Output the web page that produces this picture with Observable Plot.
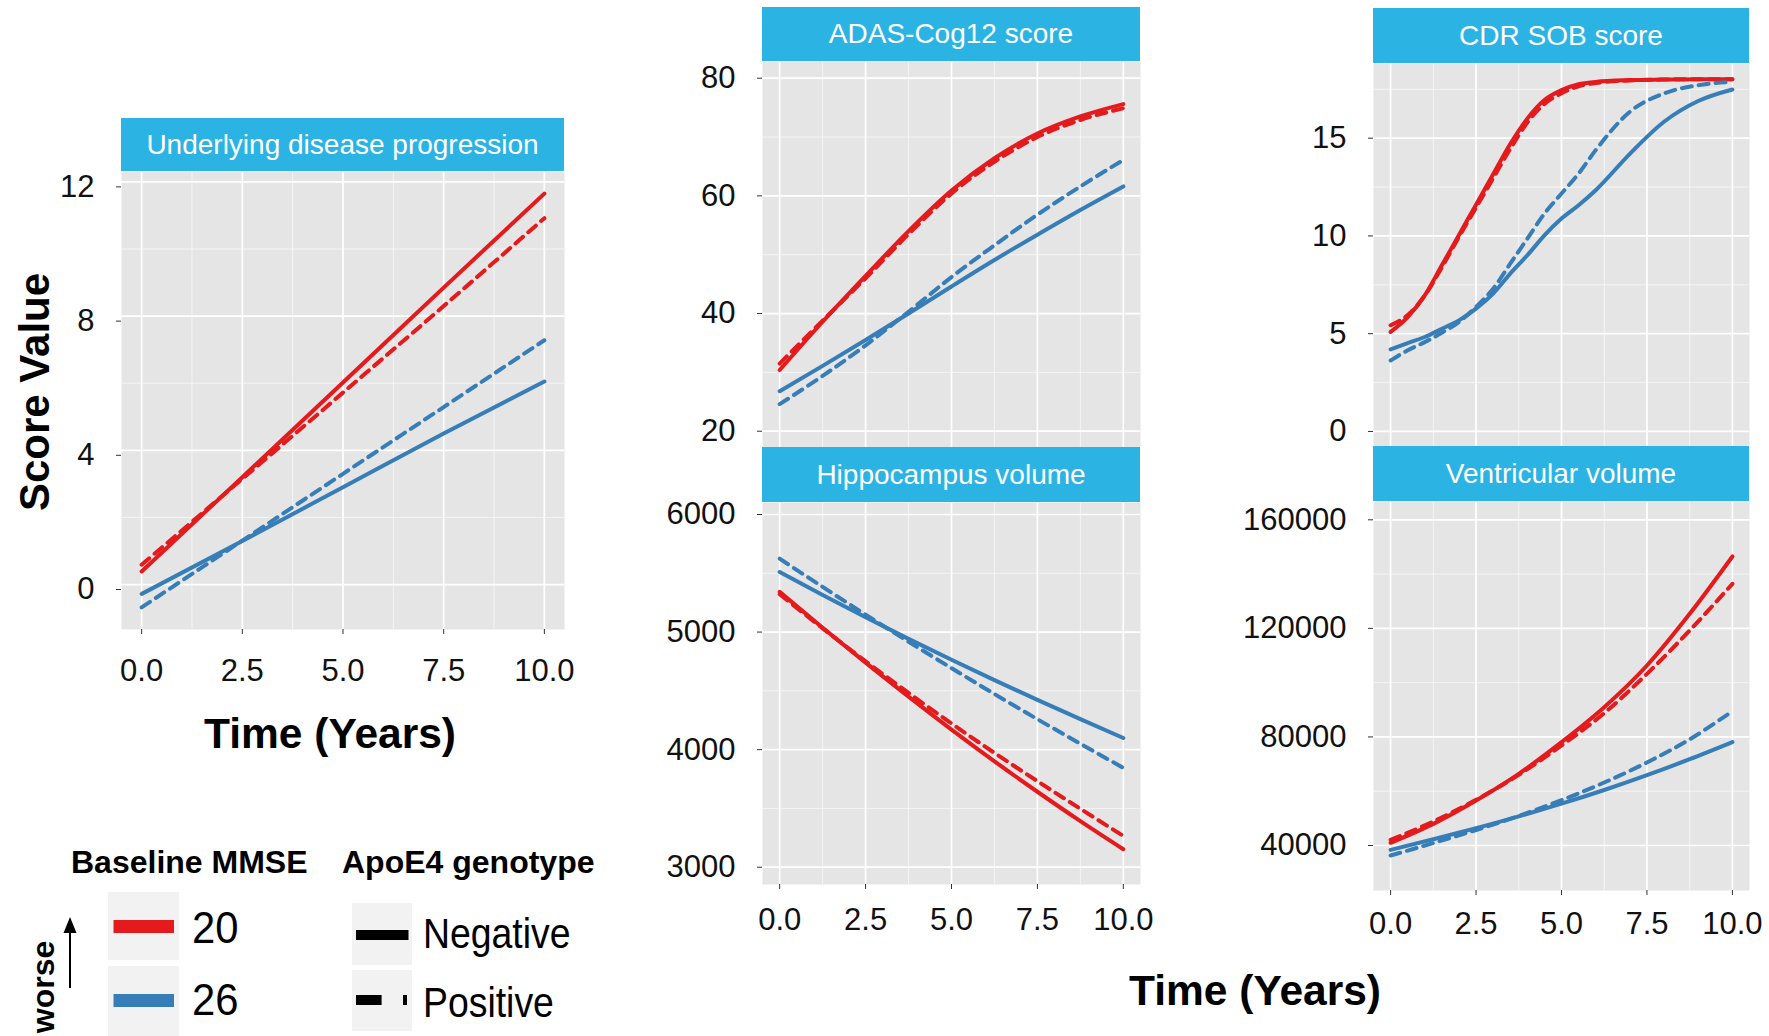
<!DOCTYPE html>
<html><head><meta charset="utf-8">
<script src="https://cdn.jsdelivr.net/npm/d3@7"></script>
<script src="https://cdn.jsdelivr.net/npm/@observablehq/plot@0.6"></script>
<style>
body{margin:0;background:#fff;}
#root{position:relative;width:1769px;height:1036px;overflow:hidden;background:#fff;font-family:"Liberation Sans",Arial,sans-serif;}
.pl{position:absolute;}
.pl svg{max-width:none !important;}
.strip{position:absolute;background:#2BB3E3;color:#fff;font-size:28px;display:flex;align-items:center;justify-content:center;z-index:5;white-space:nowrap;}
#overlay{position:absolute;left:0;top:0;z-index:10;}
</style></head><body><div id="root"></div>
<script>
// ---------- data ----------
const mmseLevels = ["20", "26"];
const apoeLevels = ["Negative", "Positive"];
const xTicks = [0, 2.5, 5, 7.5, 10];
const xMinor = [1.25, 3.75, 6.25, 8.75];

const underlyingTime = [0, 2.5, 5, 7.5, 10];
const underlying20Neg = [0.39, 3.2, 6.02, 8.85, 11.65];
const underlying20Pos = [0.59, 3.15, 5.72, 8.3, 10.92];
const underlying26Neg = [-0.28, 1.3, 2.9, 4.5, 6.05];
const underlying26Pos = [-0.68, 1.31, 3.3, 5.29, 7.28];

const adasTime = [0, 1.25, 2.5, 3.75, 5, 6.25, 7.5, 8.75, 10];
const adas20Neg = [30.4, 38.6, 46.4, 54.0, 60.9, 66.4, 70.6, 73.5, 75.6];
const adas20Pos = [31.5, 38.8, 46.0, 53.5, 60.4, 65.8, 70.0, 72.9, 74.9];
const adas26Neg = [26.8, 31.1, 35.5, 40.0, 44.6, 49.1, 53.4, 57.6, 61.6];
const adas26Pos = [24.6, 29.4, 34.6, 40.3, 46.2, 51.6, 56.8, 61.6, 66.1];

const cdrTime = [0, 0.5, 1, 1.5, 2, 2.5, 3, 3.5, 4, 4.5, 5, 5.5, 6, 7, 8, 9, 10];
const cdr20Neg = [5.09, 5.85, 6.96, 8.5, 10.05, 11.6, 13.15, 14.7, 16.0, 16.95, 17.46, 17.76, 17.88, 17.97, 18.0, 18.02, 18.02];
const cdr20Pos = [5.43, 5.95, 6.95, 8.4, 9.95, 11.45, 12.95, 14.45, 15.8, 16.75, 17.3, 17.65, 17.82, 17.95, 18.0, 18.02, 18.02];
const cdr26Neg = [4.2, 4.52, 4.83, 5.25, 5.68, 6.28, 7.05, 8.07, 9.01, 10.03, 10.89, 11.57, 12.34, 14.2, 15.84, 16.9, 17.49];
const cdr26Pos = [3.63, 4.15, 4.57, 5.05, 5.6, 6.37, 7.3, 8.58, 9.86, 11.14, 12.17, 13.19, 14.39, 16.35, 17.29, 17.71, 17.88];

const hippoTime = [0, 1.25, 2.5, 3.75, 5, 6.25, 7.5, 8.75, 10];
const hippo20Neg = [5342, 5037, 4740, 4451, 4171, 3901, 3642, 3392, 3153];
const hippo20Pos = [5322, 5032, 4752, 4482, 4222, 3972, 3732, 3497, 3266];
const hippo26Neg = [5511, 5316, 5126, 4942, 4764, 4591, 4423, 4259, 4099];
const hippo26Pos = [5624, 5384, 5148, 4918, 4693, 4473, 4259, 4050, 3845];

const ventTime = [0, 1.25, 2.5, 3.75, 5, 6.25, 7.5, 8.75, 10];
const vent20Neg = [41000, 47980, 56580, 66410, 78075, 90970, 106320, 125360, 146490];
const vent20Pos = [42090, 48840, 56830, 66040, 76850, 88760, 103250, 119220, 136410];
const vent26Neg = [38400, 42285, 46380, 50738, 55411, 60451, 65911, 71791, 78091];
const vent26Pos = [36300, 40900, 45700, 50900, 56700, 63200, 70600, 79100, 89500];

// ---------- helpers ----------
const RED = "#E41A1C", BLUE = "#377EB8";
function rows(time, s20n, s20p, s26n, s26p) {
  const out = [];
  [[s20n, "20", "Negative"], [s20p, "20", "Positive"], [s26n, "26", "Negative"], [s26p, "26", "Positive"]]
    .forEach(([vals, m, a]) => time.forEach((t, i) => out.push({t, v: vals[i], mmse: m, apoe: a})));
  return out;
}

const root = document.getElementById("root");
const FONT = "'Liberation Sans', Arial, sans-serif";

function panel(p) {
  const mL = p.mL || 150, mR = 40, mT = 10, mB = p.xAxis ? 80 : 10;
  const W = mL + p.pw + mR, H = mT + p.ph + mB;
  const marks = [
    Plot.frame({fill: "#E5E5E5", stroke: null}),
    Plot.gridY(p.yMinor, {stroke: "#fff", strokeOpacity: 0.75, strokeWidth: 0.8}),
    Plot.gridX(xMinor, {stroke: "#fff", strokeOpacity: 0.75, strokeWidth: 0.8}),
    Plot.gridY(p.yTicks, {stroke: "#fff", strokeOpacity: 1, strokeWidth: 1.7}),
    Plot.gridX(xTicks, {stroke: "#fff", strokeOpacity: 1, strokeWidth: 1.7}),
    Plot.axisY(p.yTicks, {tickSize: 5, tickPadding: 22, fontSize: 31, stroke: "#333", fill: "#111", label: null, dy: p.yDy || 0, tickFormat: d => String(d)}),
    Plot.line(p.data.filter(d => d.apoe === "Negative"), {x: "t", y: "v", z: "mmse", stroke: "mmse", strokeWidth: 4, curve: "monotone-x"}),
    Plot.line(p.data.filter(d => d.apoe === "Positive"), {x: "t", y: "v", z: "mmse", stroke: "mmse", strokeWidth: 4, strokeDasharray: "10,7", curve: "monotone-x"})
  ];
  if (p.xAxis) marks.push(Plot.axisX(xTicks, {tickSize: 5, tickPadding: p.xPad, fontSize: 31, stroke: "#333", fill: "#111", label: null, tickFormat: d3.format(".1f")}));
  const wrap = document.createElement("div");
  wrap.className = "pl";
  wrap.style.left = (p.px - mL) + "px";
  wrap.style.top = (p.py - mT) + "px";
  wrap.style.width = W + "px";
  wrap.style.height = H + "px";
  wrap.appendChild(Plot.plot({
    width: W, height: H,
    marginLeft: mL, marginRight: mR, marginTop: mT, marginBottom: mB,
    inset: 0,
    x: p.xAxis ? {domain: [-0.5, 10.5]} : {domain: [-0.5, 10.5], axis: null},
    y: {domain: p.yDomain},
    color: {domain: mmseLevels, range: [RED, BLUE]},
    style: {fontFamily: FONT, background: "transparent", overflow: "visible", maxWidth: "none"},
    marks
  }));
  root.appendChild(wrap);
  const s = document.createElement("div");
  s.className = "strip";
  s.style.left = p.px + "px"; s.style.top = p.sy + "px";
  s.style.width = p.pw + "px"; s.style.height = p.sh + "px";
  s.textContent = p.title;
  root.appendChild(s);
}

panel({title: "Underlying disease progression", px: 121, py: 171, pw: 443, ph: 458, sy: 118, sh: 53, mL: 110, yDy: 5,
  yDomain: [-1.34, 12.31], yTicks: [0, 4, 8, 12], yMinor: [2, 6, 10], xAxis: true, xPad: 24,
  data: rows(underlyingTime, underlying20Neg, underlying20Pos, underlying26Neg, underlying26Pos)});
panel({title: "ADAS-Cog12 score", px: 762, py: 61, pw: 378, ph: 386, sy: 7, sh: 54,
  yDomain: [17.23, 82.84], yTicks: [20, 40, 60, 80], yMinor: [30, 50, 70], xAxis: false,
  data: rows(adasTime, adas20Neg, adas20Pos, adas26Neg, adas26Pos)});
panel({title: "CDR SOB score", px: 1373, py: 63, pw: 376, ph: 383, sy: 8, sh: 55,
  yDomain: [-0.77, 18.82], yTicks: [0, 5, 10, 15], yMinor: [2.5, 7.5, 12.5, 17.5], xAxis: false,
  data: rows(cdrTime, cdr20Neg, cdr20Pos, cdr26Neg, cdr26Pos)});
panel({title: "Hippocampus volume", px: 762, py: 502, pw: 378, ph: 382, sy: 447, sh: 55,
  yDomain: [2853, 6102], yTicks: [3000, 4000, 5000, 6000], yMinor: [3500, 4500, 5500], xAxis: true, xPad: 18,
  data: rows(hippoTime, hippo20Neg, hippo20Pos, hippo26Neg, hippo26Pos)});
panel({title: "Ventricular volume", px: 1373, py: 501, pw: 376, ph: 389, sy: 446, sh: 55,
  yDomain: [23421, 166742], yTicks: [40000, 80000, 120000, 160000], yMinor: [60000, 100000, 140000], xAxis: true, xPad: 16,
  data: rows(ventTime, vent20Neg, vent20Pos, vent26Neg, vent26Pos)});

// ---------- titles & legend overlay ----------
const ov = d3.select(root).append("svg").attr("id", "overlay")
  .attr("width", 1769).attr("height", 1036).attr("font-family", FONT);
ov.append("text").attr("transform", "translate(49,392) rotate(-90)").attr("text-anchor", "middle")
  .attr("font-size", 42).attr("font-weight", "bold").text("Score Value");
ov.append("text").attr("x", 330).attr("y", 748).attr("text-anchor", "middle")
  .attr("font-size", 42.5).attr("font-weight", "bold").text("Time (Years)");
ov.append("text").attr("x", 1255).attr("y", 1005).attr("text-anchor", "middle")
  .attr("font-size", 42.5).attr("font-weight", "bold").text("Time (Years)");

ov.append("text").attr("x", 71).attr("y", 873).attr("font-size", 32).attr("font-weight", "bold").text("Baseline MMSE");
ov.append("text").attr("x", 342).attr("y", 873).attr("font-size", 32).attr("font-weight", "bold").text("ApoE4 genotype");

// MMSE keys
[[892, 960, RED, 920, 943, mmseLevels[0]], [966, 1036, BLUE, 994, 1015, mmseLevels[1]]].forEach(([y0, y1, c, ly, ty, lab]) => {
  ov.append("rect").attr("x", 108).attr("y", y0).attr("width", 71).attr("height", y1 - y0).attr("fill", "#F2F2F2");
  ov.append("rect").attr("x", 113.5).attr("y", ly).attr("width", 60.5).attr("height", 13).attr("fill", c);
  ov.append("text").attr("transform", `translate(192,${ty}) scale(0.95,1)`).attr("font-size", 44).text(lab);
});
// ApoE4 keys
[[903, 965, 930, 948, apoeLevels[0], false], [970, 1031, 995, 1017, apoeLevels[1], true]].forEach(([y0, y1, ly, ty, lab, dashed]) => {
  ov.append("rect").attr("x", 352).attr("y", y0).attr("width", 60).attr("height", y1 - y0).attr("fill", "#F2F2F2");
  if (!dashed) {
    ov.append("rect").attr("x", 356).attr("y", ly).attr("width", 52.5).attr("height", 10).attr("fill", "#000");
  } else {
    ov.append("rect").attr("x", 356).attr("y", ly).attr("width", 25.6).attr("height", 10).attr("fill", "#000");
    ov.append("rect").attr("x", 403).attr("y", ly).attr("width", 4).attr("height", 10).attr("fill", "#000");
  }
  ov.append("text").attr("transform", `translate(423,${ty}) scale(0.89,1)`).attr("font-size", 42).text(lab);
});
// "worse" arrow
ov.append("text").attr("transform", "translate(53.5,987) rotate(-90)").attr("text-anchor", "middle")
  .attr("font-size", 32).attr("font-weight", "bold").text("worse");
ov.append("line").attr("x1", 70).attr("x2", 70).attr("y1", 988).attr("y2", 930).attr("stroke", "#000").attr("stroke-width", 2);
ov.append("polygon").attr("points", "70,917 63.5,933 76.5,933").attr("fill", "#000");
</script>
</body></html>
